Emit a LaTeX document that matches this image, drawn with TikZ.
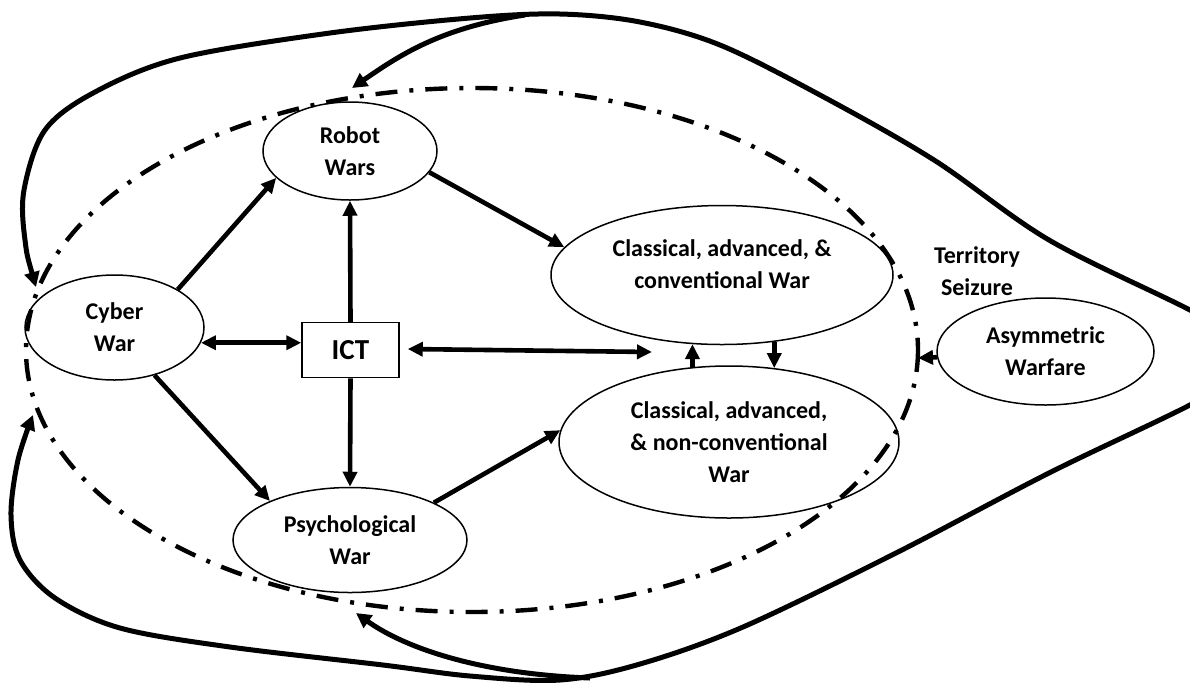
\documentclass[tikz,border=0pt]{standalone}
\usepackage{fontspec}
\setmainfont{Carlito}
\usetikzlibrary{shapes.geometric,arrows.meta}
\begin{document}
\begin{tikzpicture}[x=0.5pt,y=-0.5pt,
  every node/.style={font=\bfseries\fontsize{12}{16}\selectfont, align=center, inner sep=0pt},
  oval/.style={ellipse, draw, line width=0.75pt},
  conn/.style={line width=2.3pt, -{Triangle[length=7.5pt,width=7pt]}},
  biconn/.style={line width=2.3pt, {Triangle[length=7.5pt,width=7pt]}-{Triangle[length=7.5pt,width=7pt]}},
  loopline/.style={line width=2.5pt},
  bound/.style={line width=2.2pt, dash pattern=on 11pt off 6pt on 2pt off 6pt}
]
\useasboundingbox (0,0) rectangle (1190,682);
\clip (0,0) rectangle (1190,682);

% boundary dash-dot ellipse
\draw[bound] (472,350) ellipse [x radius=446, y radius=262];

% nodes
\node[oval, minimum width=89.5pt, minimum height=52.5pt] (cyber) at (114.5,327.5) {Cyber\\War};
\node[oval, minimum width=87pt, minimum height=49pt] (robot) at (350,151) {Robot\\Wars};
\node[draw, line width=0.75pt, minimum width=48.5pt, minimum height=27.5pt, font=\bfseries\fontsize{14.5}{16}\selectfont] (ict) at (350.5,350) {ICT};
\node[oval, minimum width=117pt, minimum height=52.5pt] (psych) at (350,540) {Psychological\\War};
\node[oval, minimum width=171pt, minimum height=69.5pt,
  label={[font=\bfseries\fontsize{12}{16}\selectfont, align=center, yshift=5.5pt]center:Classical, advanced, \&\\conventional War}] (conv) at (722,275) {};
\node[oval, minimum width=170pt, minimum height=76pt] (nonconv) at (729,442) {Classical, advanced,\\\& non-conventional\\War};
\node[oval, minimum width=108.5pt, minimum height=53.5pt] (asym) at (1045.5,351.5) {Asymmetric\\Warfare};
\node (terr) at (977,271) {Territory\\Seizure};

% free ends
\coordinate (ictR) at (652,352);
\coordinate (robotTip) at (352,88);
\coordinate (psychTip) at (356,613);
\coordinate (topSplit) at (525,15);
\coordinate (botSplit) at (590,678);
\coordinate (asymTip) at (918,358);

% connectors
\draw[conn] (cyber.31) -- (robot.200);
\draw[conn] (ict.north) -- (robot.south);
\draw[conn] (robot.-15) -- (conv.170);
\draw[biconn] (cyber.-10) -- (cyber.-10 -| ict.west);
\draw[biconn] ([xshift=4pt,yshift=0.5pt]ict.east) -- (ictR);
\draw[conn] (ict.south) -- (psych.north);
\draw[conn] (cyber.-50) -- (psych.154);
\draw[conn] (psych.24) -- (nonconv.176);
\draw[conn] (nonconv.116.6) -- (nonconv.116.6 |- conv.246.5);
\draw[conn] (conv.308) -- (conv.308 |- nonconv.58.5);
\draw[conn] (asym.183) -- (asymTip);

% outer loop
\draw[loopline, {Triangle[length=7.5pt,width=7.5pt]}-{Triangle[length=7.5pt,width=7.5pt]}]
  plot[smooth, tension=0.55] coordinates {(36,287) (25,240) (24,190) (45,130) (95,92) (180,58) (330,33) (470,18) (560,14) (640,22) (720,45) (820,95) (934,160) (1049,240) (1190,310) (1275,357) (1190,405) (1049,473) (896,553) (743,627) (640,664) (560,680) (470,676) (383,665) (230,647) (120,628) (55,598) (20,560) (11,515) (18,460) (33,415)};
\draw[loopline, -{Triangle[length=7.5pt,width=7.5pt]}] (topSplit) .. controls (440,28) and (400,55) .. (robotTip);
\draw[loopline, -{Triangle[length=7.5pt,width=7.5pt]}] (botSplit) .. controls (480,674) and (405,648) .. (psychTip);
\end{tikzpicture}
\end{document}
